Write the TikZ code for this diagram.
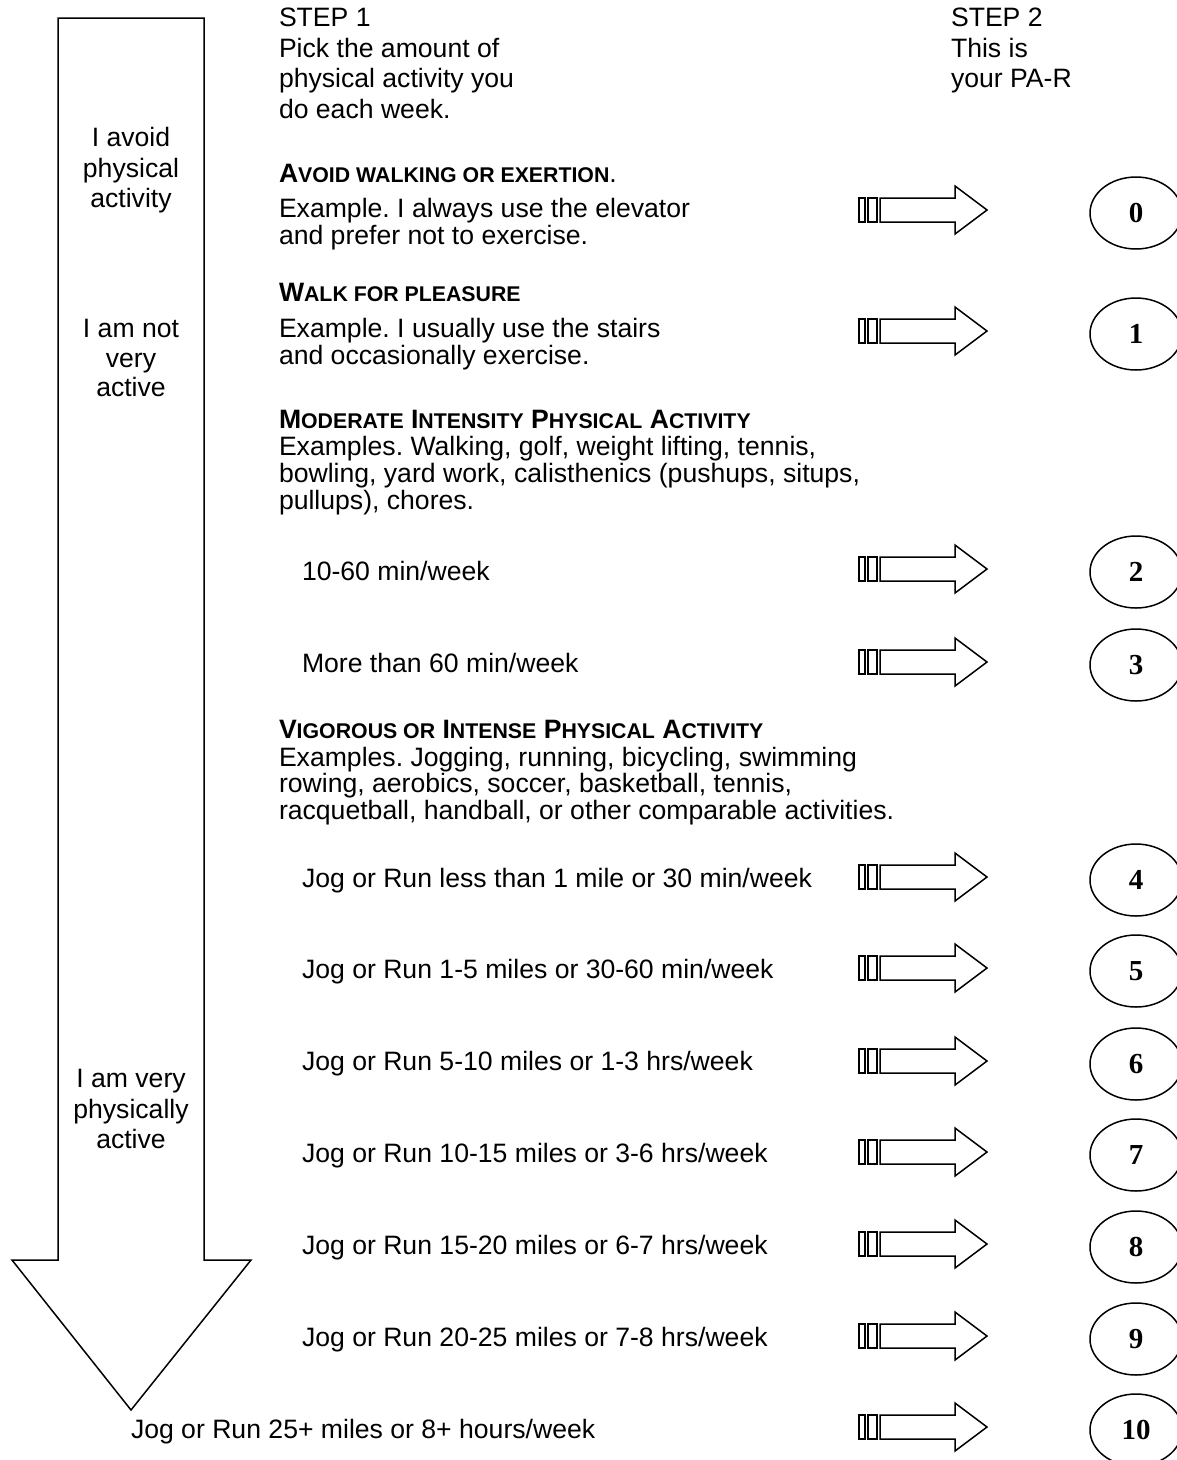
\documentclass[tikz,border=0pt]{standalone}
\usepackage{fontspec}
\setmainfont{Liberation Sans}
\newfontfamily\numfont{Liberation Serif}
\usetikzlibrary{shapes.geometric}
\frenchspacing
\newcommand\fsc[2]{#1{\fontsize{21.3}{21.3}\selectfont #2}}
\tikzset{
 txt/.style={inner sep=0pt, outer sep=0pt, font=\fontsize{26.6}{26.6}\selectfont},
 tl/.style={txt, anchor=base west},
 tc/.style={txt, anchor=base},
 outline/.style={draw=black, line width=1.5pt, line join=miter},
 parnode/.style={draw=black, line width=1.5pt, ellipse, minimum width=92pt, minimum height=72pt, inner sep=0pt, font=\numfont\bfseries\fontsize{29}{29}\selectfont},
}
\newcommand\rowmark[3]{%
  \draw[outline] (859,#2-12) rectangle (865,#2+12);
  \draw[outline] (868,#2-12) rectangle (877,#2+12);
  \draw[outline] (880,#2-12) -- (955,#2-12) -- (955,#2-24) -- (987,#2) -- (955,#2+24) -- (955,#2+12) -- (880,#2+12) -- cycle;
  \node[parnode] (#1) at (1136,#2+3) {#3};
}
\begin{document}
\begin{tikzpicture}[x=1pt,y=-1pt]
\useasboundingbox (0,0) rectangle (1177,1460);
% big arrow
\draw[outline] (58,18) -- (204,18) -- (204,1260) -- (251,1260) -- (131,1410) -- (12,1260) -- (58,1260) -- cycle;
% left column
\node[tc] (la1) at (131,146.5) {I avoid};
\node[tc] (la2) at (131,177) {physical};
\node[tc] (la3) at (131,207.5) {activity};
\node[tc] (lb1) at (131,337.5) {I am not};
\node[tc] (lb2) at (131,367) {very};
\node[tc] (lb3) at (131,396.5) {active};
\node[tc] (lc1) at (131,1087.5) {I am very};
\node[tc] (lc2) at (131,1118) {physically};
\node[tc] (lc3) at (131,1148.5) {active};
% headers
\node[tl] (s1a) at (279,26.5) {STEP 1};
\node[tl] (s1b) at (279,57) {Pick the amount of};
\node[tl] (s1c) at (279,87.5) {physical activity you};
\node[tl] (s1d) at (279,118) {do each week.};
\node[tl] (s2a) at (951,26.5) {STEP 2};
\node[tl] (s2b) at (951,57) {This is};
\node[tl] (s2c) at (951,87.5) {your PA-R};
% avoid
\node[tl] (a1) at (279,182) {\textbf{\fsc{A}{VOID WALKING OR EXERTION}}.};
\node[tl] (a2) at (279,217) {Example. I always use the elevator};
\node[tl] (a3) at (279,244) {and prefer not to exercise.};
% walk
\node[tl] (w1) at (279,301) {\textbf{\fsc{W}{ALK FOR PLEASURE}}};
\node[tl] (w2) at (279,337) {Example. I usually use the stairs};
\node[tl] (w3) at (279,364) {and occasionally exercise.};
% moderate
\node[tl] (m1) at (279,428) {\textbf{\fsc{M}{ODERATE} \fsc{I}{NTENSITY} \fsc{P}{HYSICAL} \fsc{A}{CTIVITY}}};
\node[tl] (m2) at (279,455.5) {Examples. Walking, golf, weight lifting, tennis,};
\node[tl] (m3) at (279,482.5) {bowling, yard work, calisthenics (pushups, situps,};
\node[tl] (m4) at (279,509.5) {pullups), chores.};
\node[tl] (m5) at (302,580) {10-60 min/week};
\node[tl] (m6) at (302,672) {More than 60 min/week};
% vigorous
\node[tl] (v1) at (279,738) {\textbf{\fsc{V}{IGOROUS OR} \fsc{I}{NTENSE} \fsc{P}{HYSICAL} \fsc{A}{CTIVITY}}};
\node[tl] (v2) at (279,766) {Examples. Jogging, running, bicycling, swimming};
\node[tl] (v3) at (279,792.5) {rowing, aerobics, soccer, basketball, tennis,};
\node[tl] (v4) at (279,819) {racquetball, handball, or other comparable activities.};
\node[tl] (j4) at (302,887) {Jog or Run less than 1 mile or 30 min/week};
\node[tl] (j5) at (302,978) {Jog or Run 1-5 miles or 30-60 min/week};
\node[tl] (j6) at (302,1070) {Jog or Run 5-10 miles or 1-3 hrs/week};
\node[tl] (j7) at (302,1162) {Jog or Run 10-15 miles or 3-6 hrs/week};
\node[tl] (j8) at (302,1254) {Jog or Run 15-20 miles or 6-7 hrs/week};
\node[tl] (j9) at (302,1346) {Jog or Run 20-25 miles or 7-8 hrs/week};
\node[tl] (j10) at (131,1438) {Jog or Run 25+ miles or 8+ hours/week};
% rows
\rowmark{p0}{210}{0}
\rowmark{p1}{331}{1}
\rowmark{p2}{569}{2}
\rowmark{p3}{662}{3}
\rowmark{p4}{877}{4}
\rowmark{p5}{968}{5}
\rowmark{p6}{1061}{6}
\rowmark{p7}{1152}{7}
\rowmark{p8}{1244}{8}
\rowmark{p9}{1336}{9}
\rowmark{p10}{1427}{10}
\end{tikzpicture}
\end{document}
